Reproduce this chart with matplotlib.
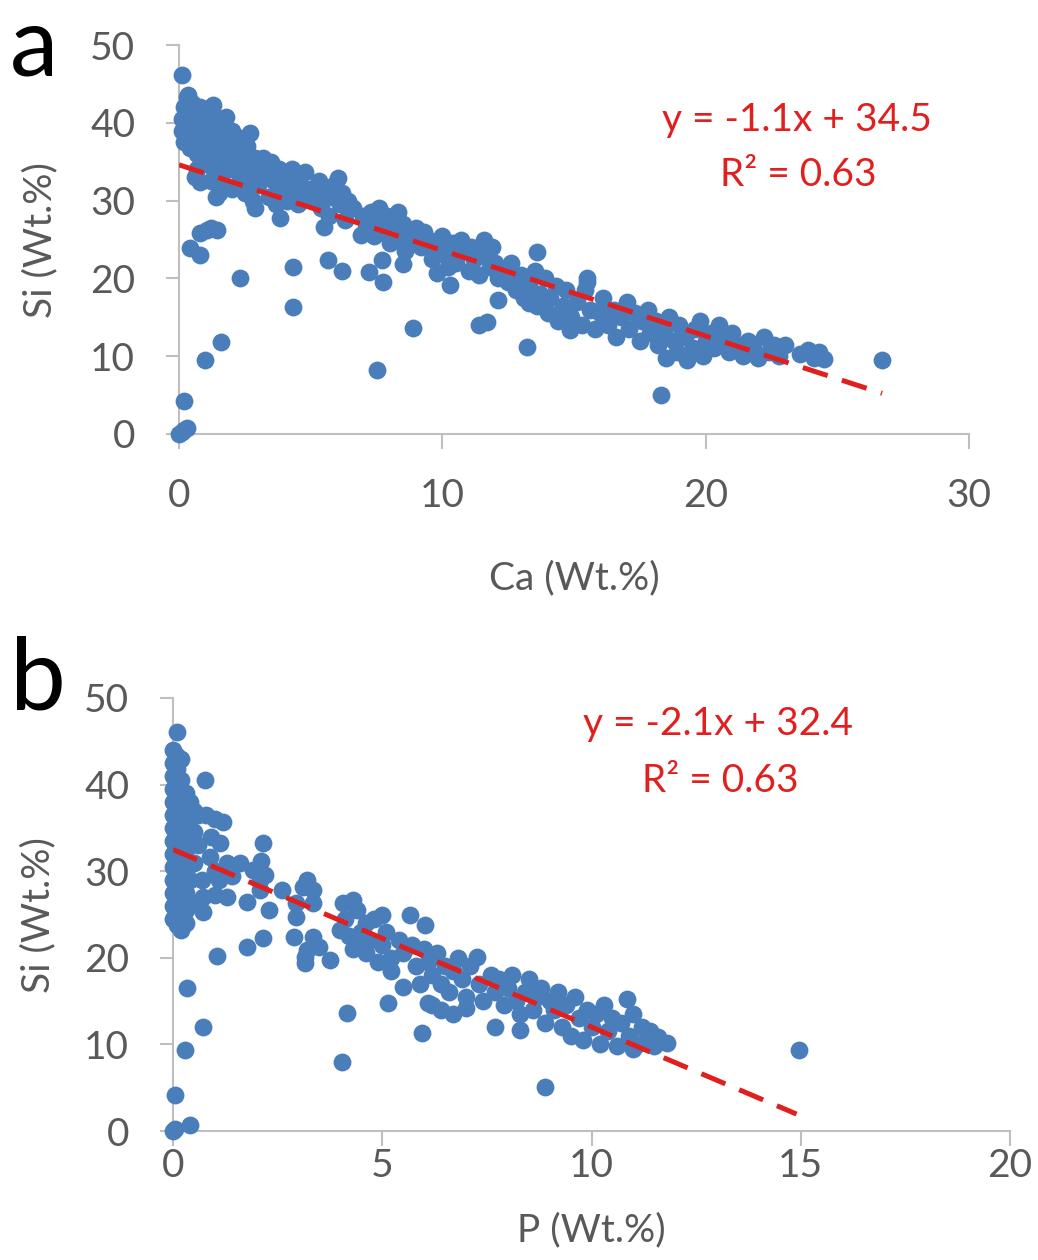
import matplotlib
matplotlib.use("Agg")
import matplotlib.pyplot as plt
import numpy as np

# ---------------- data ----------------
# Panel a: Ca (x) vs Si (y)
ca_points = [
    (0.0, 0.0), (0.1, 0.2), (0.2, 0.5), (0.3, 0.8), (0.2, 4.3), (1.0, 9.5), (1.6, 11.8), (2.3, 20.0),
    (0.4, 23.9), (0.8, 23.0), (0.8, 25.8), (1.06, 26.2), (1.44, 26.2), (1.2, 26.5),
    (4.33, 21.5), (4.33, 16.3), (5.67, 22.4), (6.2, 20.9), (3.84, 27.8), (7.5, 8.2), (7.2, 20.8),
    (7.7, 22.4), (7.76, 19.6), (8.5, 21.9), (8.9, 13.6), (6.9, 25.6), (9.8, 20.7), (10.3, 19.2),
    (11.4, 14.0), (11.7, 14.4), (12.1, 17.2), (5.5, 26.6), (13.2, 11.2), (13.6, 23.4), (14.85, 13.4),
    (18.3, 5.0), (15.5, 20.0), (13.3, 16.8), (26.7, 9.5),
    (0.13, 46.1), (0.35, 43.6),
    (0.1, 40.5), (0.1, 39.0), (0.2, 42.0), (0.2, 37.5), (0.3, 43.3), (0.3, 41.0), (0.3, 38.5), (0.4, 40.0),
    (0.4, 36.8), (0.5, 42.5), (0.5, 39.5), (0.6, 41.5), (0.6, 38.0), (0.7, 40.5), (0.7, 36.0), (0.8, 42.0),
    (0.8, 39.0), (0.9, 37.5), (0.9, 41.0), (1.0, 40.0), (1.0, 35.5), (0.7, 34.0), (0.6, 33.0), (0.8, 32.4),
    (1.1, 38.5), (1.1, 41.5), (1.2, 37.0), (1.2, 34.5), (1.3, 42.3), (1.3, 39.5), (1.4, 36.0), (1.4, 30.5),
    (1.5, 38.0), (1.5, 33.5), (1.6, 40.5), (1.6, 35.5), (1.7, 37.0), (1.7, 32.0), (1.8, 40.8), (1.8, 38.5),
    (1.9, 34.0), (1.9, 36.5), (2.0, 31.5), (2.0, 39.0), (1.5, 31.0), (1.2, 32.5),
    (2.1, 37.5), (2.2, 35.0), (2.3, 33.0), (2.3, 38.0), (2.4, 36.0), (2.5, 31.0), (2.5, 34.5), (2.6, 37.0),
    (2.7, 38.7), (2.7, 33.0), (2.8, 30.0), (2.9, 29.0), (2.9, 35.5), (3.0, 32.0), (3.0, 34.0),
    (3.2, 35.5), (3.3, 33.0), (3.4, 30.5), (3.5, 35.0), (3.6, 32.5), (3.7, 29.5), (3.8, 34.0), (3.9, 31.5),
    (4.0, 33.0), (4.1, 30.0), (4.2, 32.5), (4.3, 34.0), (4.4, 31.0), (4.5, 29.5), (4.6, 32.0), (4.8, 33.7),
    (4.9, 30.5), (5.0, 31.5),
    (5.2, 30.0), (5.3, 32.5), (5.4, 29.0), (5.6, 31.0), (5.7, 28.0), (5.8, 30.5), (5.9, 32.0), (6.05, 32.9),
    (6.1, 29.5), (6.2, 31.0), (6.4, 30.0), (6.6, 29.0), (6.3, 27.5),
    (7.0, 28.0), (7.1, 26.5), (7.3, 28.5), (7.4, 25.5), (7.5, 27.5), (7.6, 29.0), (7.8, 26.0), (7.9, 28.0),
    (8.0, 24.5), (8.1, 27.0), (8.3, 28.5), (8.4, 25.5), (8.5, 27.0), (8.6, 23.5), (8.7, 26.0), (8.9, 25.0),
    (9.0, 26.5),
    (9.2, 24.0), (9.3, 26.0), (9.5, 25.0), (9.6, 22.5), (9.8, 24.0), (10.0, 25.5), (10.1, 23.0), (10.2, 21.5),
    (10.4, 24.5), (10.5, 22.0), (10.7, 25.0), (10.8, 23.5), (11.0, 21.0), (11.1, 24.0), (11.2, 22.5),
    (11.4, 20.5), (11.5, 23.0), (11.6, 25.0), (11.8, 21.5), (11.9, 24.0), (12.0, 22.0), (12.1, 20.0),
    (12.3, 21.0), (12.5, 19.5), (12.6, 22.0), (12.8, 18.5), (13.0, 20.5), (13.1, 17.5), (13.3, 19.0),
    (13.5, 21.0), (13.6, 16.5), (13.7, 18.0), (13.9, 20.0), (14.0, 15.5), (14.1, 17.5), (14.3, 19.0),
    (14.4, 14.5), (14.6, 16.5), (14.7, 18.5), (14.9, 15.0),
    (15.1, 17.0), (15.3, 14.0), (15.4, 18.5), (15.5, 19.5), (15.6, 16.0), (15.8, 13.5), (16.0, 15.5),
    (16.1, 17.5), (16.3, 14.0), (16.5, 16.0), (16.6, 12.5), (16.8, 15.0), (17.0, 17.0), (17.1, 13.5),
    (17.3, 15.5), (17.5, 12.0), (17.6, 14.5), (17.8, 16.0), (17.9, 13.0),
    (18.1, 14.5), (18.2, 11.5), (18.4, 13.0), (18.5, 9.8), (18.6, 15.0), (18.8, 12.0), (18.9, 10.5),
    (19.0, 14.0), (19.2, 12.5), (19.3, 9.5), (19.5, 11.0), (19.6, 13.5), (19.8, 14.5), (19.9, 10.0),
    (20.0, 12.0), (20.2, 13.0), (20.3, 11.0), (20.5, 14.0),
    (20.7, 12.0), (20.9, 10.5), (21.0, 13.0), (21.2, 11.5), (21.4, 10.0), (21.6, 12.0), (21.8, 11.0),
    (22.0, 9.8), (22.2, 12.5), (22.4, 10.5), (22.6, 11.5), (22.8, 10.0), (23.0, 11.5),
    (23.6, 10.3), (23.9, 10.8), (24.1, 9.8), (24.3, 10.5), (24.5, 9.6),
]

# Panel b: P (x) vs Si (y)
p_points = [
    (0.0, 0.0), (0.05, 0.2), (0.4, 0.7), (0.05, 4.2), (0.29, 9.35), (0.72, 12.0), (0.33, 16.5),
    (1.05, 20.2), (1.76, 21.3), (2.15, 22.3), (2.15, 33.2), (4.15, 13.6), (4.03, 8.0), (5.94, 11.3),
    (5.13, 14.8), (8.9, 5.1), (14.96, 9.35), (0.76, 40.5),
    (0.0, 44.0), (0.0, 42.5), (0.0, 41.0), (0.0, 39.5), (0.0, 38.0), (0.0, 36.5), (0.0, 35.0), (0.0, 33.5),
    (0.0, 32.0), (0.0, 30.5), (0.0, 29.0), (0.0, 27.5), (0.0, 26.0), (0.0, 24.5),
    (0.1, 46.1), (0.1, 43.3), (0.1, 41.8), (0.1, 40.2), (0.1, 38.7), (0.1, 37.2), (0.1, 35.7), (0.1, 34.2),
    (0.1, 32.7), (0.1, 31.2), (0.1, 29.7), (0.1, 28.2), (0.1, 26.7), (0.1, 25.2), (0.1, 23.8),
    (0.2, 43.0), (0.2, 40.5), (0.2, 38.0), (0.2, 36.0), (0.2, 34.0), (0.2, 31.5), (0.2, 29.0), (0.2, 27.0),
    (0.2, 25.0), (0.2, 23.2),
    (0.3, 39.0), (0.3, 37.0), (0.3, 35.0), (0.3, 32.5), (0.3, 30.0), (0.3, 27.5), (0.3, 25.5), (0.3, 24.0),
    (0.4, 38.0), (0.4, 36.0), (0.4, 33.5), (0.4, 29.0), (0.4, 26.5),
    (0.5, 37.0), (0.5, 34.5), (0.5, 31.0), (0.6, 36.5), (0.6, 33.0), (0.7, 29.0), (0.8, 36.5), (0.9, 34.0),
    (1.0, 36.0), (1.0, 30.0), (1.1, 29.0), (1.2, 35.7), (1.3, 31.0), (1.12, 33.2), (0.88, 31.6),
    (0.72, 27.0), (0.72, 25.3), (1.0, 27.3), (1.29, 27.0), (1.17, 29.8),
    (1.4, 29.5), (1.6, 30.9), (1.9, 30.1), (2.1, 31.2), (2.2, 29.6), (1.76, 26.4), (2.3, 25.5),
    (2.07, 27.8), (2.07, 29.0), (2.6, 27.8), (2.95, 26.3), (2.95, 24.7), (2.9, 22.4), (3.2, 29.0),
    (3.35, 27.8), (3.35, 26.3), (3.35, 22.4), (3.5, 21.2), (3.15, 20.1), (3.15, 19.4), (3.75, 19.7),
    (3.2, 20.9), (3.1, 28.2),
    (4.06, 26.3), (4.3, 26.7), (4.0, 23.2),
    (4.1, 24.5), (4.2, 22.5), (4.3, 21.0), (4.4, 25.5), (4.5, 23.0), (4.6, 20.5), (4.7, 22.0), (4.8, 24.5),
    (4.9, 19.5), (5.0, 21.5), (5.1, 23.0), (5.2, 18.5), (5.2, 20.0), (5.0, 25.0), (4.6, 24.0), (4.4, 21.5),
    (5.4, 22.0), (5.5, 20.5), (5.66, 24.9), (5.7, 21.5), (5.8, 19.0), (5.9, 17.0), (6.0, 21.0),
    (6.01, 23.8), (5.5, 16.6),
    (6.1, 19.5), (6.2, 18.0), (6.3, 20.5), (6.4, 17.0), (6.5, 19.0), (6.6, 16.0), (6.7, 18.5), (6.8, 20.0),
    (6.9, 17.5), (7.0, 15.5), (7.1, 19.0), (7.26, 20.1), (7.3, 17.0), (7.4, 15.0), (6.2, 14.5), (6.4, 14.0),
    (6.7, 13.5), (7.0, 14.2), (6.1, 14.8),
    (7.6, 18.0), (7.7, 16.0), (7.8, 17.5), (7.9, 14.5), (8.0, 16.5), (8.1, 18.0), (8.2, 15.0), (8.3, 13.5),
    (8.4, 16.0), (8.5, 17.5), (8.6, 14.0), (8.7, 15.5), (8.8, 16.5), (8.9, 12.5), (9.0, 15.0), (7.7, 12.0),
    (8.3, 11.7),
    (9.1, 14.0), (9.2, 16.0), (9.3, 12.0), (9.4, 14.5), (9.5, 11.0), (9.6, 15.5), (9.7, 13.0), (9.8, 10.5),
    (9.9, 14.0), (10.0, 12.0), (10.1, 13.5), (10.2, 10.0), (10.3, 14.5), (10.4, 11.5), (10.5, 13.0),
    (10.6, 9.8), (10.7, 12.5), (10.86, 15.3), (10.9, 11.0), (11.0, 13.5),
    (11.1, 10.0), (11.2, 12.0), (11.3, 10.5), (11.4, 11.5), (11.5, 9.8), (11.6, 10.8), (11.8, 10.2),
    (11.0, 9.5),
]

# Trend lines (slope, intercept, x range) and labels
trend_a = (-1.1, 34.6, 0.0, 26.7)
trend_b = (-2.05, 32.5, 0.0, 14.9)
eq_a = ["y = -1.1x + 34.5", "R² = 0.63"]
eq_b = ["y = -2.1x + 32.4", "R² = 0.63"]

xticks_a = [0, 10, 20, 30]
xticks_b = [0, 5, 10, 15, 20]
yticks = [0, 10, 20, 30, 40, 50]

# ---------------- style ----------------
W, H = 1038, 1260
plt.rcParams['font.family'] = ['Lato', 'DejaVu Sans']
BLUE = '#4A7EBB'
RED = '#E0201F'
GREY_AX = '#BFBFBF'
GREY_TXT = '#595959'
FS = 28

fig = plt.figure(figsize=(W / 100, H / 100), dpi=100)

def px_rect(l, r, t, b):
    return [l / W, 1 - b / H, (r - l) / W, (b - t) / H]

ax_a = fig.add_axes(px_rect(179, 969, 45, 434))
ax_b = fig.add_axes(px_rect(173, 1010, 698, 1131))

def style(ax, xmax, xticks, xpad):
    ax.set_xlim(0, xmax)
    ax.set_ylim(0, 50)
    ax.set_xticks(xticks)
    ax.set_yticks(yticks)
    for s in ['top', 'right']:
        ax.spines[s].set_visible(False)
    for s in ['left', 'bottom']:
        ax.spines[s].set_color(GREY_AX)
        ax.spines[s].set_linewidth(1.5)
    ax.tick_params(axis='both', colors=GREY_AX, width=1.5, labelsize=FS, labelcolor=GREY_TXT)
    ax.tick_params(axis='y', length=9.5, pad=22)
    ax.tick_params(axis='x', length=10.5, pad=xpad)

def draw(ax, pts, trend):
    x = np.array([p[0] for p in pts])
    y = np.array([p[1] for p in pts])
    ax.scatter(x, y, s=165, color=BLUE, linewidths=0, clip_on=False, zorder=3)
    m, c, x0, x1 = trend
    xs = np.array([x0, x1])
    ax.plot(xs, m * xs + c, color=RED, lw=3.6, dashes=(5.2, 3.0), zorder=4, solid_capstyle='butt')

style(ax_a, 30, xticks_a, 21)
style(ax_b, 20, xticks_b, 2)
draw(ax_a, ca_points, trend_a)
draw(ax_b, p_points, trend_b)

def ftext(x, y, s, **kw):
    fig.text(x / W, 1 - y / H, s, **kw)

# equations
ftext(797, 120, eq_a[0], color=RED, fontsize=FS, ha='center', va='center')
ftext(798, 175, eq_a[1], color=RED, fontsize=FS, ha='center', va='center')
ftext(718, 724, eq_b[0], color=RED, fontsize=FS, ha='center', va='center')
ftext(720, 781, eq_b[1], color=RED, fontsize=FS, ha='center', va='center')

# axis labels
ftext(574, 578, 'Ca (Wt.%)', color=GREY_TXT, fontsize=FS, ha='center', va='center')
ftext(591, 1230, 'P (Wt.%)', color=GREY_TXT, fontsize=FS, ha='center', va='center')
ftext(40, 240, 'Si (Wt.%)', color=GREY_TXT, fontsize=FS, ha='center', va='center', rotation=90)
ftext(38, 915, 'Si (Wt.%)', color=GREY_TXT, fontsize=FS, ha='center', va='center', rotation=90)

# panel letters
ftext(34, 75, 'a', color='black', fontsize=70, ha='center', va='baseline')
ftext(38, 710, 'b', color='black', fontsize=72, ha='center', va='baseline')

fig.savefig('out.png', dpi=100)
